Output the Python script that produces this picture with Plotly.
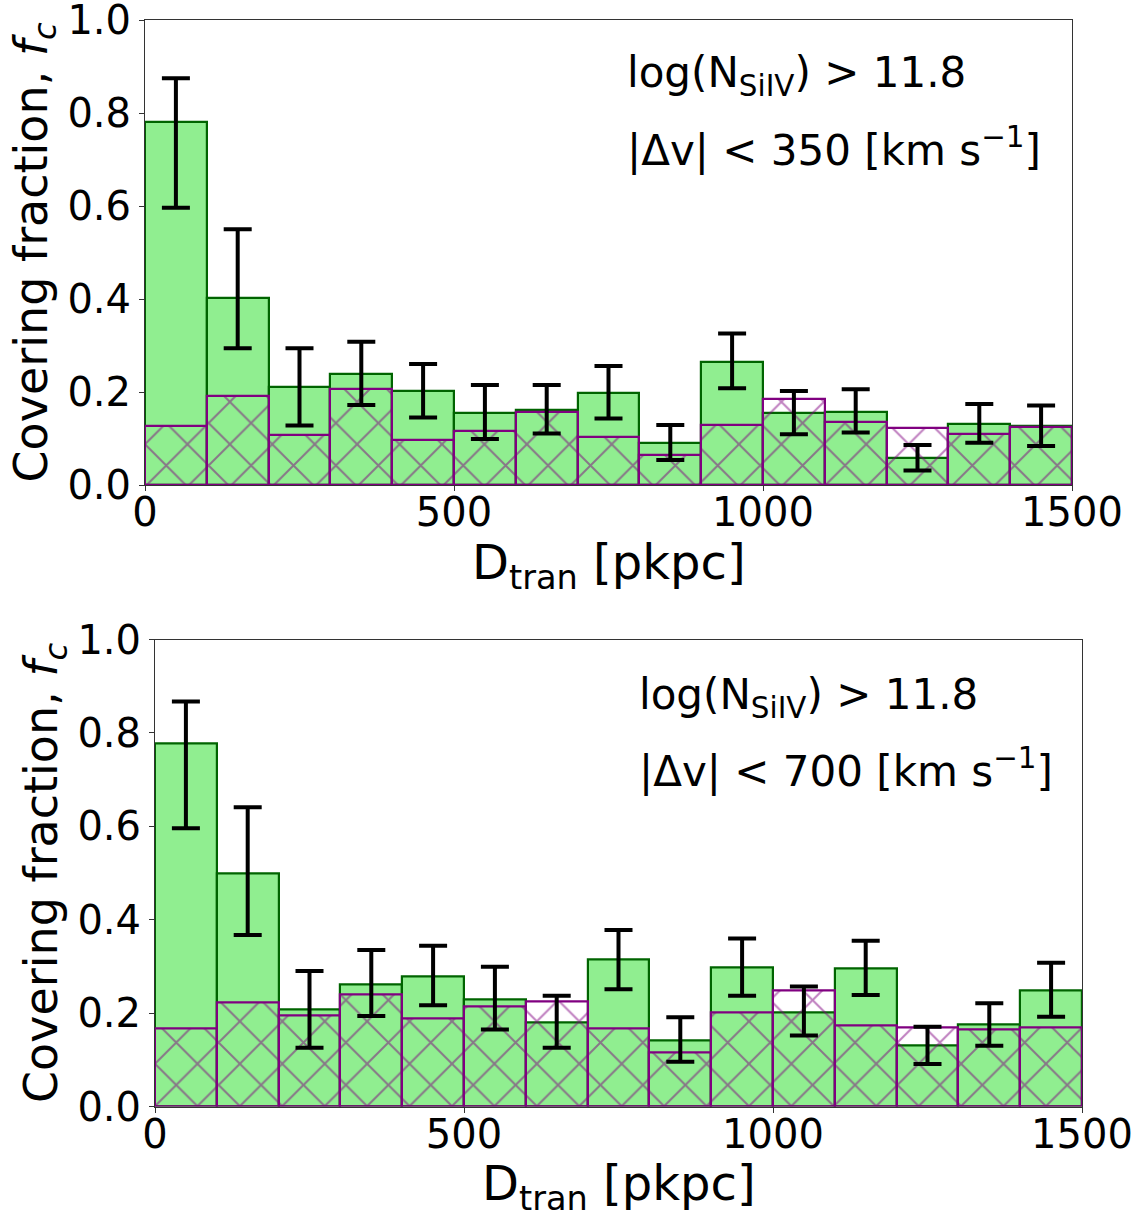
import numpy as np
import plotly.graph_objects as go

# ---- data ----
bin_edges = list(range(0, 1600, 100))  # D_tran bin edges [pkpc]

# top panel: |dv| < 350 km/s
fc_top = [0.780, 0.402, 0.210, 0.239, 0.202, 0.155, 0.161, 0.198, 0.090, 0.265, 0.155, 0.158, 0.058, 0.131, 0.127]
fc_top_hatch = [0.127, 0.191, 0.108, 0.206, 0.097, 0.117, 0.158, 0.104, 0.064, 0.129, 0.184, 0.135, 0.122, 0.110, 0.125]
err_top_hi = [0.875, 0.550, 0.294, 0.308, 0.260, 0.215, 0.215, 0.256, 0.129, 0.326, 0.202, 0.206, 0.086, 0.174, 0.171]
err_top_lo = [0.596, 0.294, 0.128, 0.172, 0.145, 0.099, 0.111, 0.143, 0.054, 0.208, 0.109, 0.113, 0.031, 0.091, 0.084]

# bottom panel: |dv| < 700 km/s
fc_bot = [0.778, 0.499, 0.208, 0.262, 0.279, 0.230, 0.179, 0.314, 0.142, 0.298, 0.202, 0.296, 0.130, 0.175, 0.249]
fc_bot_hatch = [0.166, 0.223, 0.194, 0.239, 0.189, 0.214, 0.224, 0.167, 0.116, 0.202, 0.249, 0.173, 0.170, 0.165, 0.170]
err_bot_hi = [0.867, 0.641, 0.290, 0.335, 0.344, 0.299, 0.237, 0.378, 0.191, 0.360, 0.257, 0.355, 0.171, 0.221, 0.308]
err_bot_lo = [0.596, 0.367, 0.126, 0.194, 0.217, 0.165, 0.126, 0.251, 0.096, 0.237, 0.152, 0.239, 0.091, 0.130, 0.192]

label_col = "log(N<sub>SiIV</sub>) > 11.8"
label_dv = ["|Δv| < 350 [km s<sup>−1</sup>]", "|Δv| < 700 [km s<sup>−1</sup>]"]
x_title = "D<sub>tran</sub> [pkpc]"
y_title = "Covering fraction, <i>f</i><sub><i>c</i></sub>"
x_ticks = [0, 500, 1000, 1500]
y_ticks = [0.0, 0.2, 0.4, 0.6, 0.8, 1.0]

# ---- figure ----
W, H = 1144, 1215
FONT = "DejaVu Sans"
edges = np.array(bin_edges, dtype=float)
centers = 0.5 * (edges[:-1] + edges[1:])
widths = np.diff(edges)

fig = go.Figure()

panels = [
    dict(fc=fc_top, hatch=fc_top_hatch, hi=err_top_hi, lo=err_top_lo,
         xref="x", yref="y", xpx=(145, 1072), ypx=(20, 485)),
    dict(fc=fc_bot, hatch=fc_bot_hatch, hi=err_bot_hi, lo=err_bot_lo,
         xref="x2", yref="y2", xpx=(155, 1082), ypx=(639.5, 1106.5)),
]

for i, p in enumerate(panels):
    fc = np.array(p["fc"])
    fig.add_trace(go.Bar(
        x=centers, y=fc, width=widths, xaxis=p["xref"], yaxis=p["yref"],
        marker=dict(color="#90EE90", line=dict(color="#006400", width=2.2)),
        showlegend=False, hoverinfo="skip"))
    fig.add_trace(go.Bar(
        x=centers, y=p["hatch"], width=widths, xaxis=p["xref"], yaxis=p["yref"],
        marker=dict(color="rgba(0,0,0,0)", line=dict(color="#800080", width=2.2),
                    pattern=dict(shape="x", fgcolor="#800080", bgcolor="rgba(0,0,0,0)",
                                 size=30, solidity=0.13, fillmode="overlay")),
        showlegend=False, hoverinfo="skip"))
    hi = np.array(p["hi"]); lo = np.array(p["lo"])
    fig.add_trace(go.Scatter(
        x=centers, y=fc, xaxis=p["xref"], yaxis=p["yref"], mode="markers",
        marker=dict(size=1, color="rgba(0,0,0,0)"),
        error_y=dict(type="data", symmetric=False, array=hi - fc, arrayminus=fc - lo,
                     color="black", thickness=4, width=14),
        showlegend=False, hoverinfo="skip"))

axis_common = dict(showline=True, linecolor="#333333", linewidth=1, mirror=True,
                   ticks="outside", ticklen=5, tickwidth=1, tickcolor="#333333",
                   showgrid=False, zeroline=False, automargin=False,
                   ticklabeloverflow="allow",
                   tickfont=dict(family=FONT, size=40, color="black"))

for i, p in enumerate(panels):
    sx = "" if i == 0 else "2"
    x0, x1 = p["xpx"]; y0, y1 = p["ypx"]
    fig.update_layout(**{
        "xaxis" + sx: dict(axis_common, domain=[x0 / W, x1 / W], range=[0, 1500],
                           tickvals=x_ticks, ticktext=[str(v) for v in x_ticks],
                           ticklabelstandoff=-13, anchor="y" + sx),
        "yaxis" + sx: dict(axis_common, domain=[1 - y1 / H, 1 - y0 / H], range=[0, 1.0],
                           tickvals=y_ticks, ticktext=[f"{v:.1f}" for v in y_ticks],
                           anchor="x" + sx),
    })
    # axis titles as annotations for exact placement
    fig.add_annotation(x=(x0 + x1) / 2 / W, y=1 - (y1 + 80) / H, xref="paper", yref="paper",
                       text=x_title, showarrow=False, xanchor="center", yanchor="middle",
                       font=dict(family=FONT, size=48, color="black"))
    fig.add_annotation(x=34 / W if i == 0 else 44 / W, y=1 - (y0 + y1) / 2 / H, xref="paper", yref="paper",
                       text=y_title, showarrow=False, textangle=-90, xanchor="center", yanchor="middle",
                       font=dict(family=FONT, size=46, color="black"))

ann_pos = [(625, 75, 147), (637, 697, 768)]
for i, (ax, y1, y2) in enumerate(ann_pos):
    for txt, yy in ((label_col, y1), (label_dv[i], y2)):
        fig.add_annotation(x=ax / W, y=1 - yy / H, xref="paper", yref="paper",
                           text=txt, showarrow=False, xanchor="left", yanchor="middle",
                           font=dict(family=FONT, size=42, color="black"))

fig.update_layout(width=W, height=H, margin=dict(l=0, r=0, t=0, b=0, autoexpand=False),
                  paper_bgcolor="white", plot_bgcolor="white", barmode="overlay",
                  bargap=0, font=dict(family=FONT, color="black"))

fig.write_html("out.html", config={"displayModeBar": False},
               post_script="document.body.style.margin='0px';document.body.style.padding='0px';")
